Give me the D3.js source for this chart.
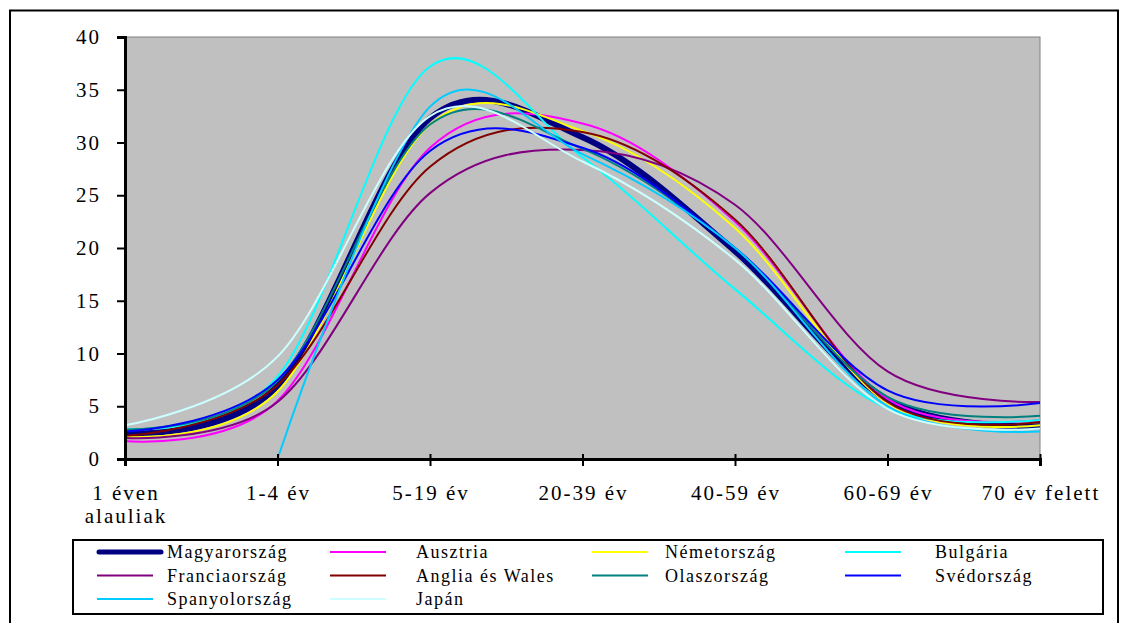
<!DOCTYPE html>
<html>
<head>
<meta charset="utf-8">
<script src="https://cdn.jsdelivr.net/npm/d3@7/dist/d3.min.js"></script>
<style>
  html, body { margin: 0; padding: 0; background: #ffffff; }
  svg { display: block; }
  text { font-family: "Liberation Serif", "Times New Roman", serif; fill: #000; }
</style>
</head>
<body>
<svg id="chart" width="1123" height="623"></svg>
<script>
// Age groups along the x axis (first label wraps onto two lines)
const categories = ["1 éven alauliak", "1-4 év", "5-19 év", "20-39 év", "40-59 év", "60-69 év", "70 év felett"];
const categoryLines = [["1 éven", "alauliak"], ["1-4 év"], ["5-19 év"], ["20-39 év"], ["40-59 év"], ["60-69 év"], ["70 év felett"]];

// Series names and colours
const seriesNames = ["Magyarország", "Ausztria", "Németország", "Bulgária", "Franciaország",
                     "Anglia és Wales", "Olaszország", "Svédország", "Spanyolország", "Japán"];
const seriesColors = ["#000080", "#FF00FF", "#FFFF00", "#00FFFF", "#800080",
                      "#800000", "#008080", "#0000FF", "#00CCFF", "#CCFFFF"];

// Values per age group, one array per country
const magyarorszag   = [2.4, 6.9, 32.3, 30.5, 19.7, 5.6, 3.1];
const ausztria       = [1.7, 5.5, 29.5, 31.8, 22.5, 5.7, 3.7];
const nemetorszag    = [2.1, 6.4, 31.7, 31.1, 21.9, 5.3, 3.2];
const bulgaria       = [2.85, 7.8, 37.2, 28.6, 16.1, 4.8, 3.7];
const franciaorszag  = [2.0, 5.4, 25.2, 29.3, 24.1, 8.3, 5.4];
const angliaWales    = [2.2, 7.0, 27.7, 31.0, 22.7, 5.4, 3.5];
const olaszorszag    = [2.8, 7.4, 31.7, 29.4, 20.0, 5.9, 4.1];
const svedorszag     = [2.6, 7.5, 29.2, 29.5, 20.0, 6.5, 5.3];
const spanyolorszag  = [null, 0, 33.4, 28.9, 20.0, 5.0, 2.6];
const japan          = [3.2, 9.7, 32.5, 28.2, 18.9, 4.75, 2.9];

const seriesValues = [magyarorszag, ausztria, nemetorszag, bulgaria, franciaorszag,
                      angliaWales, olaszorszag, svedorszag, spanyolorszag, japan];

// Y axis tick values
const yTicks = [0, 5, 10, 15, 20, 25, 30, 35, 40];

const svg = d3.select("#chart");

// Outer chart frame
svg.append("rect")
  .attr("x", 10).attr("y", 10.5)
  .attr("width", 1108).attr("height", 640)
  .attr("fill", "#fff").attr("stroke", "#000").attr("stroke-width", 2);

const plot = { left: 125, right: 1040, top: 37, bottom: 459 };

const x = d3.scalePoint().domain(categories).range([plot.left, plot.right]);
const y = d3.scaleLinear().domain([0, 40]).range([plot.bottom, plot.top]);

// Plot area
svg.append("rect")
  .attr("x", plot.left).attr("y", plot.top)
  .attr("width", plot.right - plot.left).attr("height", plot.bottom - plot.top)
  .attr("fill", "#C0C0C0").attr("stroke", "#808080").attr("stroke-width", 1);

// Series lines, smoothed
const line = d3.line()
  .defined(d => d.v != null)
  .x(d => x(d.c))
  .y(d => y(d.v))
  .curve(d3.curveCardinal.tension(0));

const lines = svg.append("g");
seriesNames.forEach((name, i) => {
  const pts = categories.map((c, j) => ({ c, v: seriesValues[i][j] }));
  lines.append("path")
    .datum(pts)
    .attr("d", line)
    .attr("fill", "none")
    .attr("stroke", seriesColors[i])
    .attr("stroke-width", i === 0 ? 6 : 2)
    .attr("stroke-linejoin", "round");
});

// Y axis
const yAxis = svg.append("g")
  .attr("transform", `translate(${plot.left},0)`)
  .call(d3.axisLeft(y).tickValues(yTicks).tickSize(8).tickPadding(16).tickFormat(d3.format("d")));
yAxis.select(".domain").attr("stroke", "#000").attr("stroke-width", 3);
yAxis.selectAll(".tick line").attr("stroke", "#000").attr("stroke-width", 2);
yAxis.selectAll(".tick text")
  .attr("font-size", 21).attr("letter-spacing", "2px")
  .style("font-family", '"Liberation Serif", "Times New Roman", serif');

// X axis with ticks crossing the axis line
const xAxis = svg.append("g")
  .attr("transform", `translate(0,${plot.bottom})`)
  .call(d3.axisBottom(x).tickSize(7).tickFormat(""));
xAxis.select(".domain").attr("stroke", "#000").attr("stroke-width", 3);
xAxis.selectAll(".tick line").attr("stroke", "#000").attr("stroke-width", 2).attr("y1", -5).attr("y2", 7);

// Category labels
categories.forEach((c, i) => {
  const t = svg.append("text")
    .attr("text-anchor", "middle")
    .attr("font-size", 21)
    .attr("letter-spacing", "2px");
  categoryLines[i].forEach((ln, k) => {
    t.append("tspan").attr("x", x(c) + 1).attr("y", 500 + k * 23).text(ln);
  });
});

// Legend
const legendBox = { x: 73, y: 540, w: 1030, h: 74 };
svg.append("rect")
  .attr("x", legendBox.x).attr("y", legendBox.y)
  .attr("width", legendBox.w).attr("height", legendBox.h)
  .attr("fill", "#fff").attr("stroke", "#000").attr("stroke-width", 2);

const legendLineX = [97, 330, 592, 845];
const legendTextX = [167, 416, 665, 935];
const legendRows = [552, 575.5, 599];
seriesNames.forEach((name, i) => {
  const col = i % 4, row = Math.floor(i / 4);
  const lx = legendLineX[col], ly = legendRows[row];
  const thick = i === 0;
  svg.append("line")
    .attr("x1", lx + (thick ? 2 : 0)).attr("x2", thick ? 161 : lx + 56)
    .attr("y1", ly).attr("y2", ly)
    .attr("stroke", seriesColors[i])
    .attr("stroke-width", thick ? 5 : 2)
    .attr("stroke-linecap", thick ? "round" : "butt");
  svg.append("text")
    .attr("x", legendTextX[col]).attr("y", ly + 6)
    .attr("font-size", 18).attr("letter-spacing", "1.5px")
    .text(name);
});
</script>
</body>
</html>
